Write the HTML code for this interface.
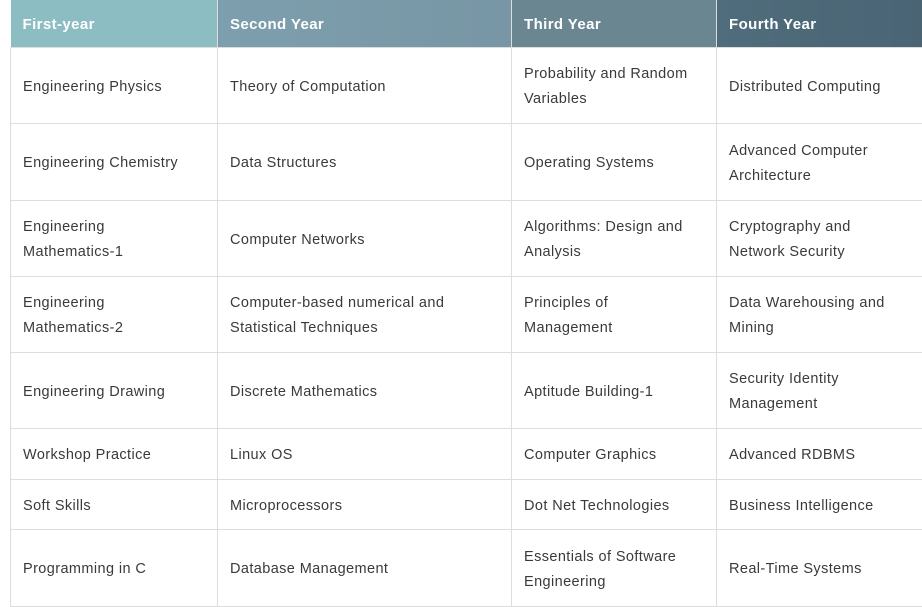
<!DOCTYPE html>
<html><head><style>
html,body{margin:0;padding:0;background:#fff;width:922px;height:605px;overflow:hidden}
table{position:absolute;left:10px;top:0;border-collapse:collapse;table-layout:fixed;width:913px;font-family:"Liberation Sans",sans-serif;font-size:14.5px;color:#3a3a3a;letter-spacing:0.4px}
th{color:#fff;font-weight:bold;text-align:left;height:45px;padding:2px 0 0 12px;font-size:15px;border-bottom:1px solid #ddd}
td{border:1px solid #ddd;padding:3px 12px 0 12px;line-height:25px;vertical-align:middle;white-space:nowrap}
tr td:last-child{border-right:none}
</style></head><body>
<table>
<colgroup><col style="width:207px"><col style="width:294px"><col style="width:205px"><col style="width:207px"></colgroup>
<tr><th style="background:#8bbdc3">First-year</th><th style="background:linear-gradient(90deg,#7d9fad,#7896a5);border-left:1px solid #ddd">Second Year</th><th style="background:#6a8791;border-left:1px solid #ddd">Third Year</th><th style="background:linear-gradient(90deg,#4f6d7c,#4a6474);border-left:1px solid #ddd">Fourth Year</th></tr>
<tr style="height:76px"><td>Engineering Physics</td><td>Theory of Computation</td><td>Probability and Random<br>Variables</td><td>Distributed Computing</td></tr>
<tr style="height:77px"><td>Engineering Chemistry</td><td>Data Structures</td><td>Operating Systems</td><td>Advanced Computer<br>Architecture</td></tr>
<tr style="height:76px"><td>Engineering<br>Mathematics-1</td><td>Computer Networks</td><td>Algorithms: Design and<br>Analysis</td><td>Cryptography and<br>Network Security</td></tr>
<tr style="height:76px"><td>Engineering<br>Mathematics-2</td><td>Computer-based numerical and<br>Statistical Techniques</td><td>Principles of<br>Management</td><td>Data Warehousing and<br>Mining</td></tr>
<tr style="height:76px"><td>Engineering Drawing</td><td>Discrete Mathematics</td><td>Aptitude Building-1</td><td>Security Identity<br>Management</td></tr>
<tr style="height:51px"><td>Workshop Practice</td><td>Linux OS</td><td>Computer Graphics</td><td>Advanced RDBMS</td></tr>
<tr style="height:50px"><td>Soft Skills</td><td>Microprocessors</td><td>Dot Net Technologies</td><td>Business Intelligence</td></tr>
<tr style="height:77px"><td>Programming in C</td><td>Database Management</td><td>Essentials of Software<br>Engineering</td><td>Real-Time Systems</td></tr>
</table>
</body></html>
